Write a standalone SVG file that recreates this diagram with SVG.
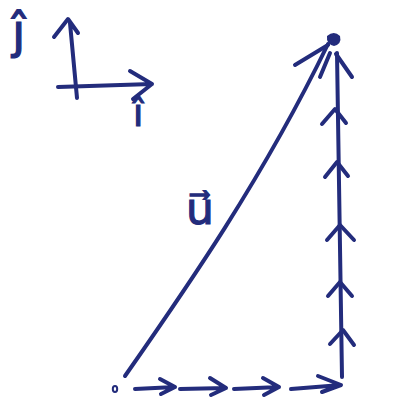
<svg xmlns="http://www.w3.org/2000/svg" width="402" height="401" viewBox="0 0 402 401">
<style>
.s{fill:none;stroke:#232c7c;stroke-width:4;stroke-linecap:round;stroke-linejoin:round}
.t{fill:#232c7c;stroke:#232c7c;stroke-width:1.2;font-family:"DejaVu Sans",sans-serif}
</style>
<rect width="402" height="401" fill="#fff"/>
<g id="axes">
<path class="s" d="M77,98 L70,23 M54,37 L68,19 L78,33"/>
<path class="s" d="M58,87 L152,84 M130,71 L152,84 L133,99"/>
<text class="t" x="12" y="48" font-size="48">ĵ</text>
<text class="t" x="133" y="126" font-size="37">î</text>
</g>
<g id="resultant">
<path class="s" d="M125,376 C185,290 262,180 328,44"/>
<path class="s" d="M295,65 L328,45"/>
<path d="M327,36 Q334,30 340,36 Q342,44 334,46 Q326,44 327,36 Z" fill="#232c7c"/>
<text class="t" x="186" y="224" font-size="44">u⃗</text>
</g>
<g id="origin">
<ellipse cx="115" cy="389" rx="2.2" ry="3" fill="none" stroke="#232c7c" stroke-width="2"/>
</g>
<g id="connectors">
<path class="s" d="M135,389 L175,387 M160,379 L175,387 L161,394"/>
<path class="s" d="M180,389 L226,388 M210,378 L226,388 L211,395"/>
<path class="s" d="M234,389 L279,387 M263,378 L279,387 L264,395"/>
<path class="s" d="M291,389 L341,385 M318,376 L341,385 L322,392"/>
<path class="s" d="M342,377 L337,53"/>
<path class="s" d="M330,344 L343,330 L354,345"/>
<path class="s" d="M328,296 L340,282 L352,296"/>
<path class="s" d="M327,240 L340,225 L354,240"/>
<path class="s" d="M325,177 L337,162 L348,176"/>
<path class="s" d="M322,124 L335,109 L346,123"/>
<path class="s" d="M320,77 L330,53 M336,54 L352,77"/>
</g>
</svg>
